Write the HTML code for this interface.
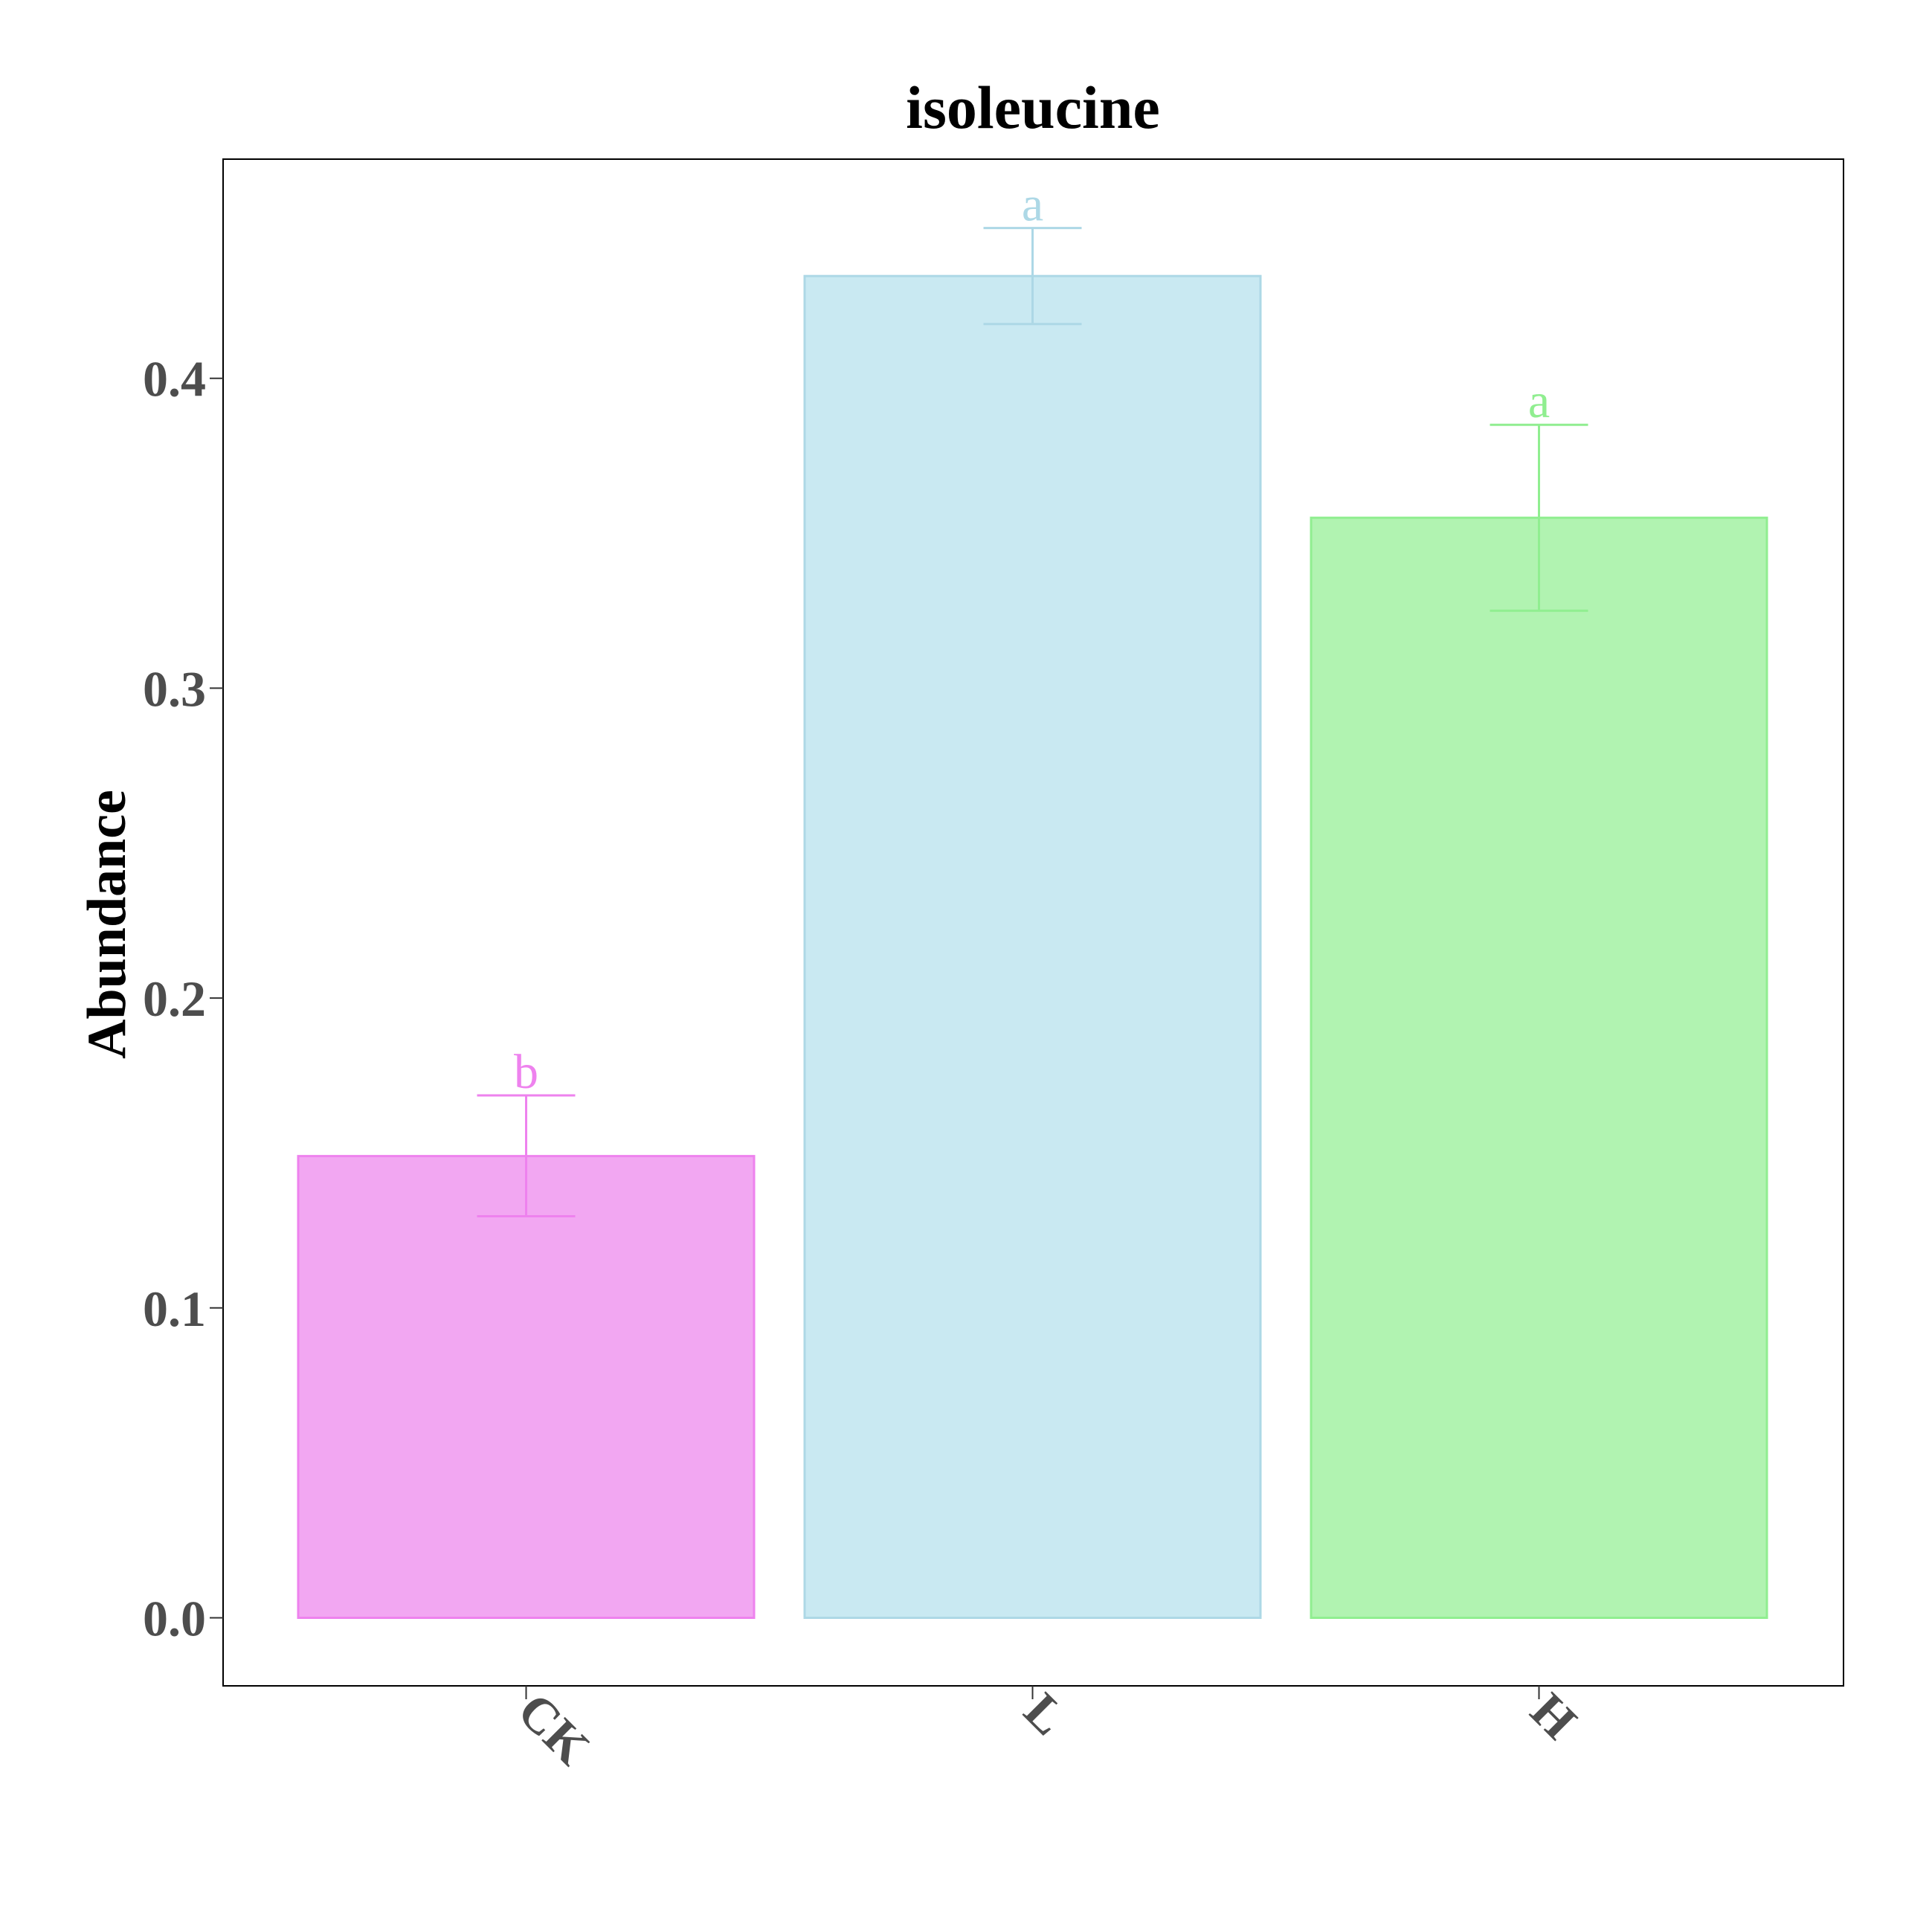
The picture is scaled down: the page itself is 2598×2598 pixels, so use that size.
<!DOCTYPE html>
<html><head><meta charset="utf-8"><style>body{margin:0;background:#fff}svg{display:block}</style></head>
<body>
<svg id="chart" width="2598" height="2598" xmlns="http://www.w3.org/2000/svg">
<rect x="0" y="0" width="2598" height="2598" fill="#fff"/>
<text x="1389" y="172" text-anchor="middle" font-family="Liberation Serif, serif" font-weight="bold" font-size="82" fill="#000">isoleucine</text>
<rect x="300" y="214" width="2179" height="2053" fill="none" stroke="#000" stroke-width="2"/>
<text transform="translate(168,1243) rotate(-90)" text-anchor="middle" font-family="Liberation Serif, serif" font-weight="bold" font-size="74" fill="#000">Abundance</text>
<g id="marks"></g>
</svg>
<script>
const categories = ["CK", "L", "H"];
const values = [0.149, 0.433, 0.355];
const errUpper = [0.1686, 0.4485, 0.385];
const errLower = [0.1296, 0.4175, 0.325];
const sigLetters = ["b", "a", "a"];
const yTicks = [0.0, 0.1, 0.2, 0.3, 0.4];
const yTickLabels = ["0.0", "0.1", "0.2", "0.3", "0.4"];
const fills = ["#f2a7f2", "#c9e9f2", "#b1f3b1"];
const strokes = ["#ee82ee", "#add8e6", "#90ee90"];

const NS = "http://www.w3.org/2000/svg";
const g = document.getElementById("marks");
const y = v => 2175.5 - v * (2175.5 - 508.7) / 0.4;
const x = i => 707.5 + i * 681;
const barW = 613, capW = 132;
function el(tag, attrs) {
  const e = document.createElementNS(NS, tag);
  for (const k in attrs) e.setAttribute(k, attrs[k]);
  g.appendChild(e);
  return e;
}
yTicks.forEach((t, i) => {
  const tk = el("line", {x1: 282, x2: 300, y1: y(t), y2: y(t), stroke: "#333", "stroke-width": 2});
  
  
  const lb = el("text", {x: 277, y: y(t) + 24, "text-anchor": "end", "font-family": "Liberation Serif, serif", "font-weight": "bold", "font-size": "68", fill: "#4d4d4d"});
  lb.textContent = yTickLabels[i];
  
  
});
categories.forEach((c, i) => {
  const cx = x(i);
  const b = el("rect", {x: cx - barW / 2, y: y(values[i]), width: barW, height: y(0) - y(values[i]), fill: fills[i], stroke: strokes[i], "stroke-width": 3});
  
  
  const eb = el("path", {d: `M${cx - capW / 2},${y(errUpper[i])}H${cx + capW / 2}M${cx},${y(errUpper[i])}V${y(errLower[i])}M${cx - capW / 2},${y(errLower[i])}H${cx + capW / 2}`, stroke: strokes[i], "stroke-width": 3, fill: "none"});
  
  
  const s = el("text", {x: cx, y: y(errUpper[i]) - 10, "text-anchor": "middle", "font-family": "Liberation Serif, serif", "font-size": "66", fill: strokes[i]});
  s.textContent = sigLetters[i];
  
  
  const tk = el("line", {x1: cx, x2: cx, y1: 2267, y2: 2285, stroke: "#333", "stroke-width": 2});
  
  
  const lb = el("text", {transform: `translate(${cx + 2},${2288}) rotate(45)`, "text-anchor": "start", "font-family": "Liberation Serif, serif", "font-weight": "bold", "font-size": "68", fill: "#4d4d4d"});
  lb.setAttribute("dy", "0.35em");
  lb.textContent = c;
  
  
});
</script>
</body></html>
